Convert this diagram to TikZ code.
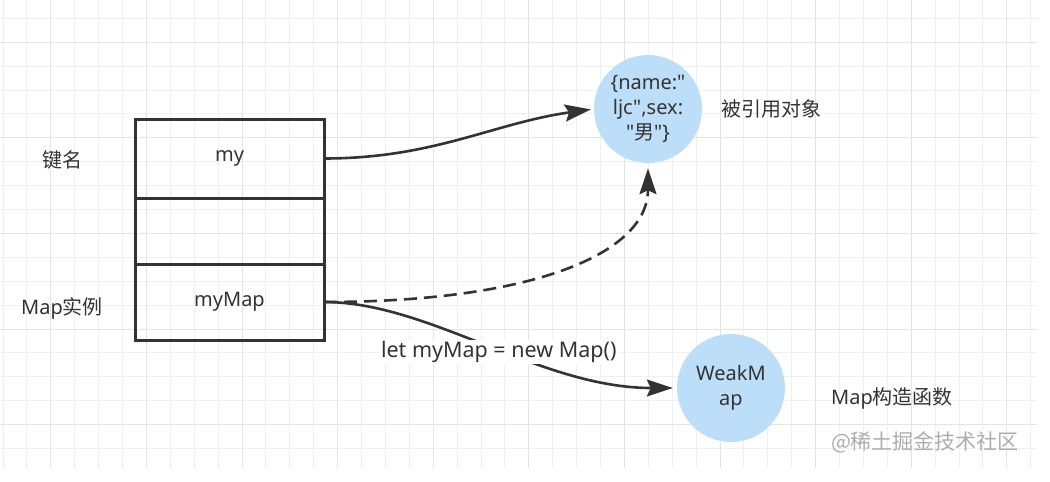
\documentclass[tikz,border=0pt]{standalone}
\usepackage{fontspec}
\newfontfamily\latin{Noto Sans}
\newfontfamily\cjk{Noto Sans CJK SC}
\usetikzlibrary{arrows.meta, positioning}
\definecolor{ink}{HTML}{333333}
\definecolor{bubble}{HTML}{BDDEF8}
\definecolor{gridminor}{HTML}{F0F0F0}
\definecolor{gridmajor}{HTML}{E4E4E4}
\definecolor{markgray}{HTML}{ADADAD}

\begin{document}
\begin{tikzpicture}[x=1pt,y=-1pt,cell/.style={rectangle, draw=ink, line width=3pt, minimum width=189pt, outer sep=0pt, font=\latin\fontsize{20}{24}\selectfont, text=ink},obj/.style={circle, fill=bubble, minimum size=108pt, inner sep=0pt, align=center, font=\latin\fontsize{20}{25}\selectfont, text=ink},arrow/.style={-{Stealth[length=26pt, width=17pt, inset=4pt]}, line width=2.6pt, draw=ink},note/.style={font=\latin\fontsize{20}{24}\selectfont, text=ink}]
\useasboundingbox (0,0) rectangle (1050,482);
\fill[white] (0,0) rectangle (1050,482);
% grid
\foreach \i in {0,...,43} \draw[gridminor, line width=1pt] ({3+23.9*\i},0) -- ({3+23.9*\i},468);
\foreach \j in {0,...,18} \draw[gridminor, line width=1pt] (0,{18.3+23.9*\j}) -- (1037,{18.3+23.9*\j});
\foreach \i in {2,6,...,42} \draw[gridmajor, line width=1pt] ({3+23.9*\i},0) -- ({3+23.9*\i},468);
\foreach \j in {1,5,...,17} \draw[gridmajor, line width=1pt] (0,{18.3+23.9*\j}) -- (1037,{18.3+23.9*\j});
% map entries
\node[cell, minimum height=79pt] (my) at (229.5,158.5) {my};
\node[cell, minimum height=66pt, below=0pt of my] (empty) {};
\node[cell, minimum height=76pt, below=0pt of empty] (mymap) {myMap};
\node[note] (keyname) at (62,160) {\cjk 键名};
\node[note] (instance) at (62,308) {Map{\cjk 实例}};
% objects
\node[obj] (target) at (648,109) {\{name:"\\ljc",sex:\\"{\cjk 男}"\}};
\node[obj] (weak) at (731,388) {WeakM\\ap};
\node[note, right=16pt of target] (reftext) {\cjk 被引用对象};
\node[note] (ctor) at (892,398) {Map{\cjk 构造函数}};
\node[note, text=markgray, font=\cjk\fontsize{21}{24}\selectfont] (mark) at (925,442) {@稀土掘金技术社区};
% references
\draw[arrow, shorten >=3pt] (my.east) .. controls +(110,0) and +(-100,14) .. (target.west);
\draw[arrow, dash pattern=on 13pt off 7pt, shorten >=5pt] (mymap.east) .. controls +(210,0) and +(0,90) .. (target.south);
\draw[arrow, shorten >=4pt] (mymap.east) .. controls +(106,0) and +(-137,0) .. (weak.west) node[note, pos=0.5, xshift=10pt, yshift=-7pt, fill=white, inner sep=1pt, font=\latin\fontsize{21.5}{24}\selectfont] (newmap) {let myMap = new Map()};
\end{tikzpicture}
\end{document}
